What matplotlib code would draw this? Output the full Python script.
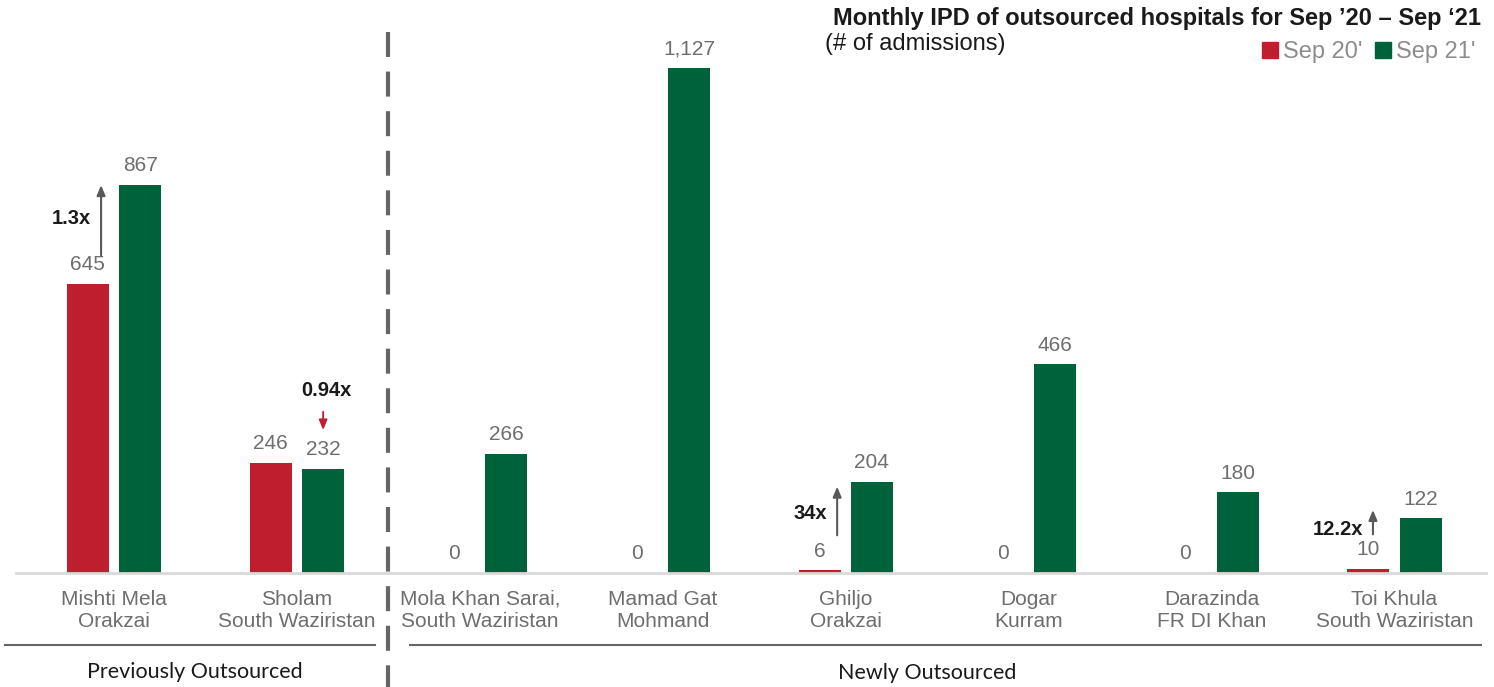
import matplotlib
matplotlib.use("Agg")
import matplotlib.pyplot as plt
import matplotlib.transforms as mtransforms
from matplotlib.lines import Line2D
import numpy as np

plt.rcParams['font.family'] = ['Liberation Sans', 'DejaVu Sans']

# data
hospitals = ['Mishti Mela\nOrakzai', 'Sholam\nSouth Waziristan', 'Mola Khan Sarai,\nSouth Waziristan',
             'Mamad Gat\nMohmand', 'Ghiljo\nOrakzai', 'Dogar\nKurram', 'Darazinda\nFR DI Khan',
             'Toi Khula\nSouth Waziristan']
sep20 = [645, 246, 0, 0, 6, 0, 0, 10]
sep21 = [867, 232, 266, 1127, 204, 466, 180, 122]
growth = {0: '1.3x', 1: '0.94x', 4: '34x', 7: '12.2x'}
groups = ['Previously Outsourced', 'Newly Outsourced']

RED = '#BE1E2D'
GREEN = '#00623A'
GRAY_TXT = '#6E6E6E'

fig = plt.figure(figsize=(14.94, 6.87), dpi=100)
ax = fig.add_axes([16 / 1494, 114 / 687, 1470 / 1494, 573 / 687])

x = np.arange(len(hospitals))
w = 0.23
off = 0.143
ax.bar(x - off, sep20, width=w, color=RED)
ax.bar(x + off, sep21, width=w, color=GREEN)

ax.set_xlim(-0.536, 7.5)
ax.set_ylim(0, 1279)

# value labels
for i in range(len(x)):
    ax.annotate(str(sep20[i]), (x[i] - off, sep20[i]), xytext=(0, 7), textcoords='offset points',
                ha='center', va='bottom', fontsize=15, color=GRAY_TXT)
    ax.annotate(f'{sep21[i]:,}', (x[i] + off, sep21[i]), xytext=(0, 7), textcoords='offset points',
                ha='center', va='bottom', fontsize=15, color=GRAY_TXT)

# growth arrows
up_arrows = {0: (-0.071, 703, 872, 792), 4: (-0.047, 78, 199, 132), 7: (-0.118, 80, 147, 96)}
for i, (dx, y0, y1, ty) in up_arrows.items():
    ax.annotate('', xy=(x[i] + dx, y1), xytext=(x[i] + dx, y0),
                arrowprops=dict(arrowstyle='-|>,head_length=0.6,head_width=0.25', color='#595959', lw=1.5))
    ax.annotate(growth[i], (x[i] + dx, ty), xytext=(-7, 0), textcoords='offset points',
                ha='right', va='center', fontsize=14.5, fontweight='bold', color='#1a1a1a')

ax.annotate('', xy=(x[1] + off, 313), xytext=(x[1] + off, 366),
            arrowprops=dict(arrowstyle='-|>,head_length=0.6,head_width=0.25', color=RED, lw=1.3))
ax.text(x[1] + off + 0.02, 408, growth[1], ha='center', va='center', fontsize=14.5,
        fontweight='bold', color='#1a1a1a')

# axes styling
for s in ['top', 'right', 'left']:
    ax.spines[s].set_visible(False)
ax.spines['bottom'].set_color('#D9D9D9')
ax.spines['bottom'].set_linewidth(2)
ax.set_yticks([])
ax.set_xticks(x)
ax.set_xticklabels(hospitals, fontsize=15, color=GRAY_TXT, linespacing=1.25)
ax.tick_params(axis='x', length=0, pad=12)

# divider between groups
trans = mtransforms.blended_transform_factory(ax.transData, ax.transAxes)
ax.plot([1.5, 1.5], [0.944, -0.2], transform=trans, clip_on=False, color='#666666',
        lw=3, dashes=(6, 3.5))

# group lines and labels
yl = 1 - 645 / 687
fig.add_artist(Line2D([5 / 1494, 375 / 1494], [yl, yl], color='#666666', lw=1.5))
fig.add_artist(Line2D([410 / 1494, 1481 / 1494], [yl, yl], color='#666666', lw=1.5))
fig.text(195 / 1494, 1 - 672 / 687, groups[0], ha='center', va='center', fontsize=15.5,
         family=['Lato', 'DejaVu Sans'], color='#1a1a1a')
fig.text(927 / 1494, 1 - 673 / 687, groups[1], ha='center', va='center', fontsize=15.5,
         family=['Lato', 'DejaVu Sans'], color='#1a1a1a')

# title
fig.text(1481 / 1494, 1 - 18 / 687, 'Monthly IPD of outsourced hospitals for Sep \u201920 \u2013 Sep \u201821',
         ha='right', va='center', fontsize=17, fontweight='bold', color='#1a1a1a')
fig.text(825 / 1494, 1 - 44 / 687, '(# of admissions)', ha='left', va='center', fontsize=17,
         color='#1a1a1a')

handles = [Line2D([], [], marker='s', ls='', color=RED, markersize=11),
           Line2D([], [], marker='s', ls='', color=GREEN, markersize=11)]
fig.legend(handles, ["Sep 20'", "Sep 21'"], loc='center right', bbox_to_anchor=(1487 / 1494, 1 - 52 / 687),
           ncol=2, frameon=False, fontsize=17, labelcolor='#8C8C8C', handletextpad=0.05,
           columnspacing=0.35, handlelength=1.0, borderpad=0)

fig.savefig('out.png', dpi=100)
